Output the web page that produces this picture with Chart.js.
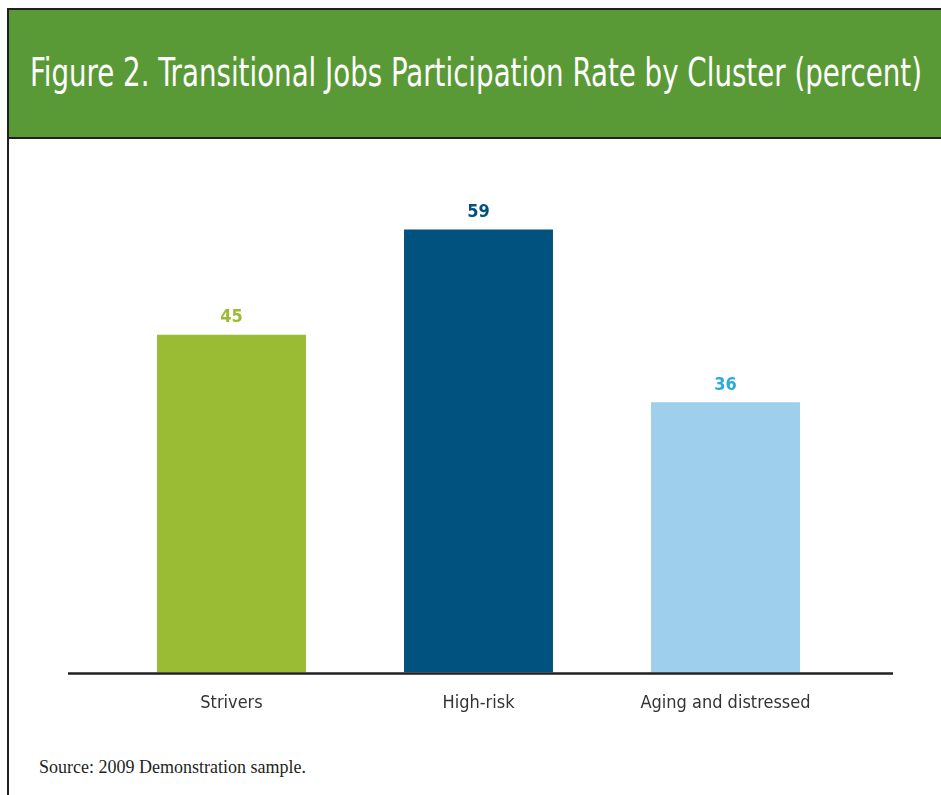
<!DOCTYPE html>
<html>
<head>
<meta charset="utf-8">
<script src="https://cdn.jsdelivr.net/npm/chart.js@4/dist/chart.umd.min.js"></script>
<style>
  html, body { margin: 0; padding: 0; background: #fff; }
  #page { position: relative; width: 941px; height: 795px; overflow: hidden; }
  #frame {
    position: absolute; left: 7px; top: 8px; width: 960px; height: 800px;
    border-left: 2px solid #231f20; border-top: 2px solid #231f20;
  }
  #header {
    position: absolute; left: 0; top: 0; width: 100%; height: 127px;
    background: #5a9a36; border-bottom: 2px solid #231f20;
  }
  #title {
    position: absolute; left: 21px; top: 43px; white-space: nowrap;
    color: #fff; font-family: 'Liberation Sans Narrow', 'DejaVu Sans Condensed', sans-serif;
    font-size: 39px; line-height: 40px; transform-origin: 0 50%;
  }
  #source {
    position: absolute; left: 39px; top: 757px;
    font-family: 'Liberation Serif', 'DejaVu Serif', serif; font-size: 18px; color: #231f20;
  }
  #chart { position: absolute; left: 0; top: 0; }
</style>
</head>
<body>
<div id="page">
  <div id="frame">
    <div id="header"><span id="title">Figure 2. Transitional Jobs Participation Rate by Cluster (percent)</span></div>
  </div>
  <div id="source">Source: 2009 Demonstration sample.</div>
  <canvas id="chart" width="941" height="795"></canvas>
</div>
<script>
// --- data ---
const categories = ['Strivers', 'High-risk', 'Aging and distressed'];
const participationRate = [45, 59, 36];

// --- styles ---
const barColors = ['#99bc34', '#01527f', '#9ecfec'];
const labelColors = ['#99bc34', '#01527f', '#29abe2'];
const condensed = "'Liberation Sans Narrow', 'DejaVu Sans Condensed', sans-serif";

// squeeze the title to the reference width
const title = document.getElementById('title');
title.style.transform = 'scaleX(' + (892 / title.getBoundingClientRect().width) + ')';

// value labels above bars + extended baseline
const barExtras = {
    id: 'barExtras',
    afterDatasetsDraw(chart) {
        const { ctx, chartArea } = chart;
        ctx.save();
        ctx.strokeStyle = '#231f20';
        ctx.lineWidth = 2.5;
        ctx.beginPath();
        ctx.moveTo(chartArea.left - 40, chartArea.bottom + 1);
        ctx.lineTo(chartArea.right + 44, chartArea.bottom + 1);
        ctx.stroke();

        ctx.font = 'bold 18px ' + condensed;
        ctx.textAlign = 'center';
        ctx.textBaseline = 'bottom';
        chart.getDatasetMeta(0).data.forEach((bar, i) => {
            ctx.fillStyle = labelColors[i];
            ctx.fillText(participationRate[i], bar.x, bar.y - 8);
        });
        ctx.restore();
    }
};

new Chart(document.getElementById('chart').getContext('2d'), {
    type: 'bar',
    data: {
        labels: categories,
        datasets: [{
            data: participationRate,
            backgroundColor: barColors,
            borderWidth: 0,
            categoryPercentage: 1,
            barPercentage: 0.603
        }]
    },
    options: {
        responsive: false,
        animation: false,
        layout: { padding: { left: 108, right: 92, top: 147, bottom: 69 } },
        plugins: { legend: { display: false }, tooltip: { enabled: false } },
        scales: {
            x: {
                grid: { display: false },
                border: { display: false },
                ticks: { color: '#333', padding: 12, font: { family: condensed, size: 18 } }
            },
            y: { display: false, min: 0, max: 70 }
        }
    },
    plugins: [barExtras]
});
</script>
</body>
</html>
